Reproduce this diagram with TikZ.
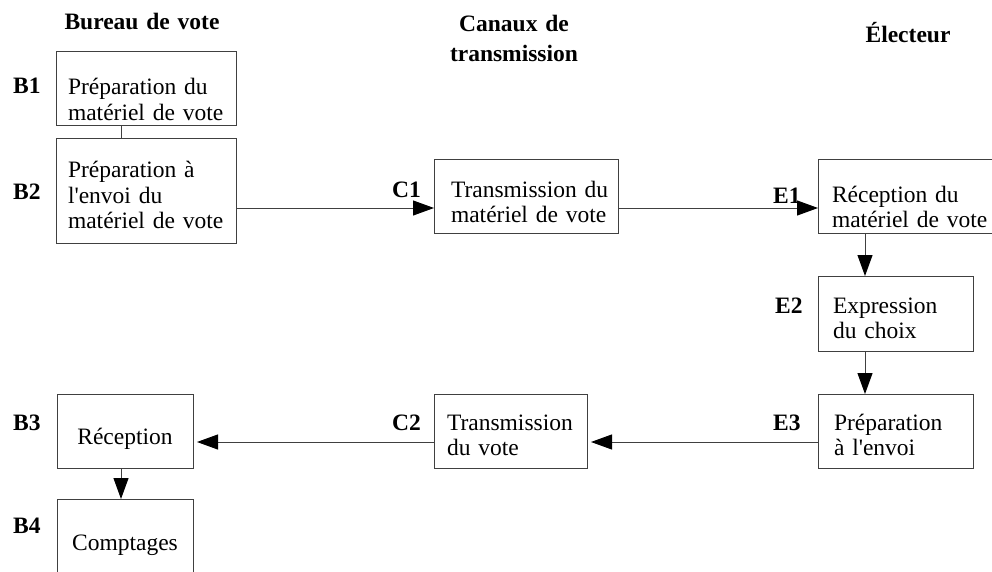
\documentclass[tikz,border=0pt]{standalone}
\usepackage{fontspec}
\setmainfont{Liberation Serif}
\usetikzlibrary{arrows.meta}
\tikzset{
  every node/.style={font=\fontsize{23.5}{25.5}\selectfont},
  bx/.style={draw=black!75, line width=1pt, anchor=north west, inner ysep=0pt, outer sep=0pt, align=left},
  lbl/.style={anchor=base west, inner sep=0pt, font=\fontsize{23.5}{25.5}\selectfont\bfseries},
  hdr/.style={anchor=base, inner sep=0pt, align=center, text width=220pt, font=\fontsize{23.5}{30}\selectfont\bfseries},
  ln/.style={draw=black!75, line width=1pt},
  arr/.style={ln, -{Triangle[length=21pt,width=15pt,black]}},
}
\newcommand{\apo}{\textquotesingle}
\begin{document}
\begin{tikzpicture}[x=1pt,y=-1pt]
\useasboundingbox (0,0) rectangle (992,572);
% headers
\node[hdr] (h1) at (142,30) {Bureau de vote};
\node[hdr] (h2) at (514,32) {Canaux de\\transmission};
\node[hdr] (h3) at (908,43) {Électeur};
% boxes
\node[bx, inner xsep=12pt, text width=156pt, text height=43pt, text depth=31pt] (b1) at (56,52) {\mbox{Préparation du}\\\mbox{matériel de vote}};
\node[bx, inner xsep=12pt, text width=156pt, text height=39pt, text depth=65pt] (b2) at (56,139) {Préparation à\\l\apo envoi du\\\mbox{matériel de vote}};
\node[bx, align=center, inner xsep=8pt, text width=120pt, text height=50pt, text depth=24pt] (b3) at (57,394) {Réception};
\node[bx, align=center, inner xsep=8pt, text width=120pt, text height=51pt, text depth=29pt] (b4) at (57,499) {Comptages};
\node[bx, inner xsep=17pt, text width=150pt, text height=37pt, text depth=36pt] (c1) at (434,160) {\mbox{Transmission du}\\\mbox{matériel de vote}};
\node[bx, inner xsep=13pt, text width=127pt, text height=36pt, text depth=38pt] (c2) at (434,394) {Transmission\\du vote};
\node[bx, inner xsep=14pt, text width=182pt, text height=42pt, text depth=31pt] (e1) at (818,160) {\mbox{Réception du}\\\mbox{matériel de vote}};
\node[bx, inner xsep=15pt, text width=125pt, text height=37pt, text depth=38pt] (e2) at (818,276) {Expression\\du choix};
\node[bx, inner xsep=16pt, text width=123pt, text height=36pt, text depth=38pt] (e3) at (818,394) {Préparation\\à l\apo envoi};
% labels
\node[lbl] (lb1) at (13,94) {B1};
\node[lbl] (lb2) at (13,200) {B2};
\node[lbl] (lb3) at (13,430) {B3};
\node[lbl] (lb4) at (13,533) {B4};
\node[lbl] (lc1) at (392,197) {C1};
\node[lbl] (lc2) at (392,430) {C2};
\node[lbl] (le1) at (773,203) {E1};
\node[lbl] (le2) at (775,313) {E2};
\node[lbl] (le3) at (773,430) {E3};
% guide coordinates
\coordinate (xb) at (121,0);
\coordinate (xe) at (865,0);
\coordinate (ytop) at (0,208);
\coordinate (ybot) at (0,442);
% connectors
\draw[ln] (b1.south -| xb) -- (b2.north -| xb);
\draw[arr] (b2.east |- ytop) -- (c1.west |- ytop);
\draw[arr] (c1.east |- ytop) -- (e1.west |- ytop);
\draw[arr] (e1.south -| xe) -- (e2.north -| xe);
\draw[arr] (e2.south -| xe) -- (e3.north -| xe);
\draw[arr, shorten >=4pt] (e3.west |- ybot) -- (c2.east |- ybot);
\draw[arr, shorten >=4pt] (c2.west |- ybot) -- (b3.east |- ybot);
\draw[arr] (b3.south -| xb) -- (b4.north -| xb);
\end{tikzpicture}
\end{document}
